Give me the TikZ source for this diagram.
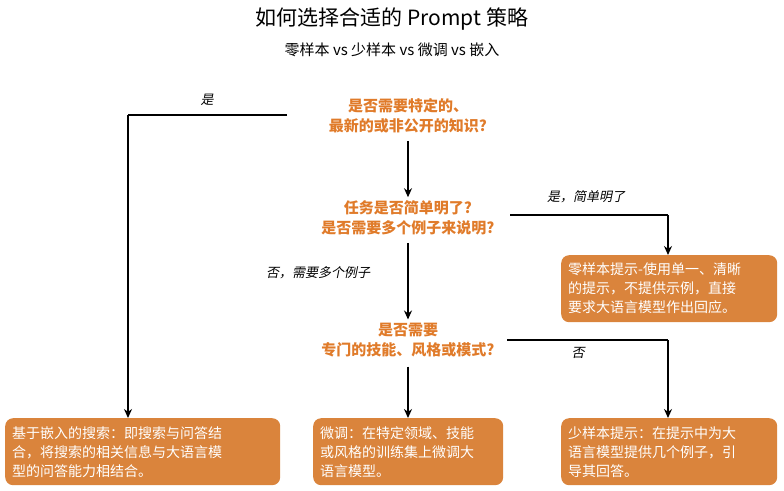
\documentclass[tikz,border=0pt]{standalone}
\usepackage{fontspec}
\setmainfont{Noto Sans CJK SC}
\newfontfamily\cjk{Noto Sans CJK SC}
\newfontfamily\cjki[FakeSlant=0.2]{Noto Sans CJK SC}
\usetikzlibrary{arrows.meta}
\definecolor{qorange}{HTML}{E07B2A}
\definecolor{borange}{HTML}{DA843C}
\begin{document}
\begin{tikzpicture}[x=1pt,y=-1pt,
  q/.style={text=qorange,font=\cjk\fontsize{15}{20}\selectfont\bfseries,align=center},
  ans/.style={fill=borange,rounded corners=8pt,text=white,font=\cjk\fontsize{14}{19}\selectfont,align=left,anchor=north west,inner xsep=7pt,inner ysep=6pt,minimum height=67pt},
  lab/.style={font=\cjki\fontsize{13}{15}\selectfont},
  con/.style={line width=1.8pt},
  arr/.style={line width=1.8pt,-{Stealth[length=9pt,width=8pt]}}]
\useasboundingbox (0,0) rectangle (784,490);
\node (t) at (392,19) {\fontsize{21}{25}\selectfont 如何选择合适的 Prompt 策略};
\node (s) at (392,50) {\fontsize{15}{18}\selectfont 零样本 vs 少样本 vs 微调 vs 嵌入};
\node[q] (q1) at (408,116) {是否需要特定的、\\最新的或非公开的知识?};
\node[q] (q2) at (408,218) {任务是否简单明了?\\是否需要多个例子来说明?};
\node[q] (q3) at (408,340) {是否需要\\专门的技能、风格或模式?};
\node[ans,text width=261pt] (a1) at (5,418) {基于嵌入的搜索：即搜索与问答结\\合，将搜索的相关信息与大语言模\\型的问答能力相结合。};
\node[ans,text width=176pt] (a2) at (313,418) {微调：在特定领域、技能\\或风格的训练集上微调大\\语言模型。};
\node[ans,text width=202pt] (a3) at (561,418) {少样本提示：在提示中为大\\语言模型提供几个例子，引\\导其回答。};
\node[ans,text width=202pt] (a0) at (561,255) {零样本提示-使用单一、清晰\\的提示，不提供示例，直接\\要求大语言模型作出回应。};
\coordinate (c1) at (128,115);
\coordinate (c2) at (668,215);
\coordinate (c3) at (668,340);
\draw[con] (287,115) -- (c1);
\draw[arr] (c1) -- (a1.north -| c1);
\draw[arr] (q1.south) ++(0,4) -- (q2.north);
\draw[arr] (q2.south) ++(0,4) -- (q3.north);
\draw[arr] (q3.south) ++(0,6) -- (a2.north -| q3.south);
\draw[con] (510,215) -- (c2);
\draw[arr] (c2) -- (a0.north -| c2);
\draw[con] (507,340) -- (c3);
\draw[arr] (c3) -- (a3.north -| c3);
\node[lab] at (207,100) {是};
\node[lab] at (586,197) {是，简单明了};
\node[lab] at (318,273) {否，需要多个例子};
\node[lab] at (578,353) {否};
\end{tikzpicture}
\end{document}
